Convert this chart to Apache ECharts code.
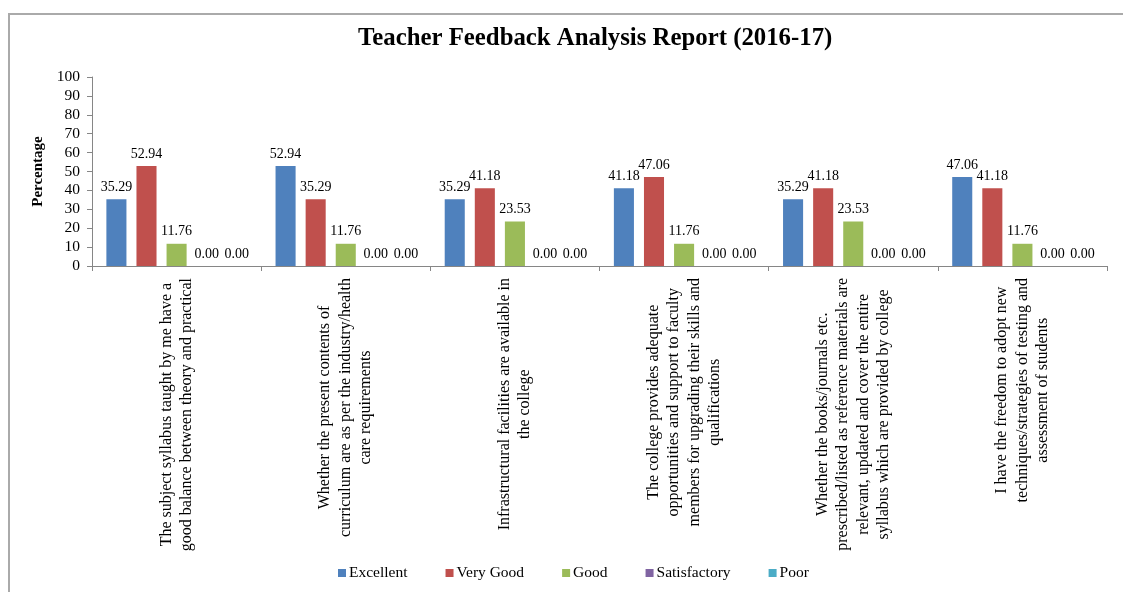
<!DOCTYPE html>
<html>
<head>
<meta charset="utf-8">
<script src="https://cdn.jsdelivr.net/npm/echarts@6/dist/echarts.min.js"></script>
<style>
html,body{margin:0;padding:0;background:#fff;}
#chart{width:1123px;height:592px;}
</style>
</head>
<body>
<div id="chart"></div>
<script>
const categories = [
  "The subject syllabus taught by me have a\ngood balance between theory and practical",
  "Whether the present contents of\ncurriculum are as per the industry/health\ncare requirements",
  "Infrastructural facilities are available in\nthe college",
  "The college provides adequate\nopportunities and support to faculty\nmembers for upgrading their skills and\nqualifications",
  "Whether the books/journals etc.\nprescribed/listed as reference materials are\nrelevant, updated and cover the entire\nsyllabus which are provided by college",
  "I have the freedom to adopt new\ntechniques/strategies of testing and\nassessment of students"
];
const seriesNames = ["Excellent", "Very Good", "Good", "Satisfactory", "Poor"];
const excellent = [35.29, 52.94, 35.29, 41.18, 35.29, 47.06];
const veryGood = [52.94, 35.29, 41.18, 47.06, 41.18, 41.18];
const good = [11.76, 11.76, 23.53, 11.76, 23.53, 11.76];
const satisfactory = [0, 0, 0, 0, 0, 0];
const poor = [0, 0, 0, 0, 0, 0];
const yTicks = {min: 0, max: 100, interval: 10};

const colors = ["#4F81BD", "#C0504D", "#9BBB59", "#8064A2", "#4BACC6"];
const FONT = "'Liberation Serif', 'Times New Roman', serif";
const allData = [excellent, veryGood, good, satisfactory, poor];

const chart = echarts.init(document.getElementById('chart'));
chart.setOption({
  animation: false,
  color: colors,
  textStyle: {fontFamily: FONT, color: '#000'},
  graphic: [{
    type: 'rect',
    shape: {x: 9, y: 14, width: 1300, height: 700},
    style: {fill: 'none', stroke: '#aaaaaa', lineWidth: 2},
    silent: true
  }],
  title: {
    text: 'Teacher Feedback Analysis Report (2016-17)',
    left: 353,
    top: 21,
    textStyle: {fontFamily: FONT, fontSize: 24.8, fontWeight: 'bold', color: '#000'}
  },
  legend: {
    data: seriesNames,
    bottom: 6,
    left: 333,
    itemWidth: 8,
    itemHeight: 8,
    itemGap: 38,
    icon: 'rect',
    textStyle: {fontFamily: FONT, fontSize: 15.5, color: '#000', padding: [0, 0, 0, -2]}
  },
  grid: {left: 92, right: 16, top: 77, bottom: 326, containLabel: false},
  xAxis: {
    type: 'category',
    data: categories,
    boundaryGap: true,
    axisLine: {lineStyle: {color: '#868686', width: 1}},
    axisTick: {show: true, alignWithLabel: false, length: 5, lineStyle: {color: '#868686'}},
    axisLabel: {
      interval: 0,
      rotate: 90,
      margin: 12,
      formatter: function (v) {
        return v.split('\n').map(function (l) { return '{c|' + l + '}'; }).join('\n');
      },
      rich: {
        c: {align: 'center', fontFamily: FONT, fontSize: 16, lineHeight: 20.5, color: '#000'}
      }
    }
  },
  yAxis: {
    type: 'value',
    min: yTicks.min,
    max: yTicks.max,
    interval: yTicks.interval,
    name: 'Percentage',
    nameLocation: 'middle',
    nameGap: 46,
    nameRotate: 90,
    nameTextStyle: {fontFamily: FONT, fontSize: 15, fontWeight: 'bold', color: '#000'},
    axisLine: {show: true, lineStyle: {color: '#868686', width: 1}},
    axisTick: {show: true, length: 5, lineStyle: {color: '#868686'}},
    splitLine: {show: false},
    axisLabel: {fontFamily: FONT, fontSize: 15.5, color: '#000', margin: 12}
  },
  series: seriesNames.map(function (name, i) {
    return {
      name: name,
      type: 'bar',
      data: allData[i],
      barGap: '50%',
      barCategoryGap: '17%',
      itemStyle: {color: colors[i]},
      label: {
        show: true,
        position: 'top',
        distance: 5,
        fontFamily: FONT,
        fontSize: 14,
        color: '#000',
        formatter: function (p) { return Number(p.value).toFixed(2); }
      }
    };
  })
});
</script>
</body>
</html>
